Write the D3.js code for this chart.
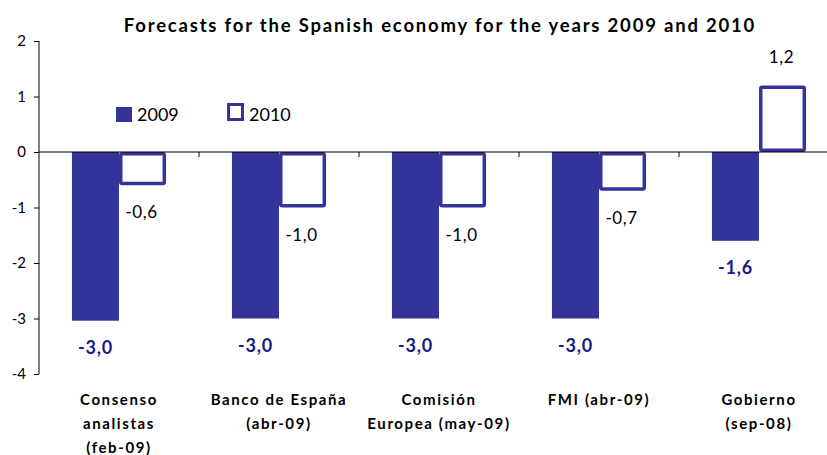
<!DOCTYPE html>
<html>
<head>
<meta charset="utf-8">
<script src="https://cdn.jsdelivr.net/npm/d3@7"></script>
<style>
  body { margin: 0; background: #fff; }
  svg { display: block; }
  text { font-family: Lato, "DejaVu Sans", sans-serif; }
</style>
</head>
<body>
<script>
var categories = [
  ["Consenso", "analistas", "(feb-09)"],
  ["Banco de España", "(abr-09)"],
  ["Comisión", "Europea (may-09)"],
  ["FMI (abr-09)"],
  ["Gobierno", "(sep-08)"]
];
var values2009 = [-3.04, -3.0, -3.0, -3.0, -1.6];
var values2010 = [-0.6, -1.0, -1.0, -0.7, 1.2];
var series = ["2009", "2010"];
var yTicks = [2, 1, 0, -1, -2, -3, -4];

var width = 827, height = 455;
var navy = "#333399";

var svg = d3.select("body").append("svg")
    .attr("width", width)
    .attr("height", height);

var x = d3.scaleBand()
    .domain(d3.range(categories.length))
    .range([39, 839])
    .paddingInner(0)
    .paddingOuter(0);

var xs = d3.scaleBand()
    .domain(series)
    .range([0, x.bandwidth()])
    .paddingOuter(0.7)
    .paddingInner(0);

var y = d3.scaleLinear()
    .domain([-4, 2])
    .range([374, 41]);

function fmt(v) { return v.toFixed(1).replace(".", ","); }

// title
svg.append("text")
    .attr("x", 440)
    .attr("y", 32)
    .attr("text-anchor", "middle")
    .style("font-size", "18.5px")
    .style("font-weight", "bold")
    .style("letter-spacing", "1.8px")
    .text("Forecasts for the Spanish economy for the years 2009 and 2010");

// bars 2009
svg.selectAll(".b09").data(values2009).enter().append("rect")
    .attr("class", "b09")
    .attr("x", function(d, i) { return x(i) + xs("2009"); })
    .attr("width", xs.bandwidth())
    .attr("y", function(d) { return y(Math.max(0, d)); })
    .attr("height", function(d) { return Math.abs(y(d) - y(0)); })
    .attr("fill", navy);

// bars 2010 (outlined)
var sw = 3.5;
svg.selectAll(".b10").data(values2010).enter().append("rect")
    .attr("class", "b10")
    .attr("x", function(d, i) { return x(i) + xs("2010") + sw / 2; })
    .attr("width", xs.bandwidth() - sw)
    .attr("y", function(d) { return y(Math.max(0, d)) + sw / 2; })
    .attr("height", function(d) { return Math.abs(y(d) - y(0)) - sw; })
    .attr("fill", "#fff")
    .attr("stroke", navy)
    .attr("stroke-width", sw)
    .attr("rx", 1.5);

// y axis
var yAxis = svg.append("g")
    .attr("transform", "translate(39,0)")
    .call(d3.axisLeft(y).tickValues(yTicks).tickSize(5).tickPadding(8)
      .tickFormat(function(d) { return d; }));
yAxis.selectAll("text").style("font-size", "15px").attr("fill", "#000");
yAxis.select(".domain").attr("d", "M0," + y(2) + "V" + y(-4));
yAxis.selectAll("line, path").attr("stroke", "#000");

// x axis at zero
var xAxis = svg.append("g")
    .attr("transform", "translate(0," + y(0) + ")");
xAxis.append("line")
    .attr("x1", 39).attr("x2", width)
    .attr("stroke", "#000");
xAxis.selectAll(".xt").data(d3.range(1, categories.length)).enter().append("line")
    .attr("x1", function(i) { return x(i); })
    .attr("x2", function(i) { return x(i); })
    .attr("y1", 0).attr("y2", 5)
    .attr("stroke", "#000");

// value labels 2009
svg.selectAll(".l09").data(values2009).enter().append("text")
    .attr("x", function(d, i) { return x(i) + xs("2009") + xs.bandwidth() / 2; })
    .attr("y", function(d) { return y(d) + 33; })
    .attr("text-anchor", "middle")
    .attr("fill", "#1a1a8a")
    .style("font-size", "18px")
    .style("font-weight", "bold")
    .style("letter-spacing", "0.8px")
    .text(fmt);

// value labels 2010
svg.selectAll(".l10").data(values2010).enter().append("text")
    .attr("x", function(d, i) { return x(i) + xs("2010") + xs.bandwidth() / 2 - 1; })
    .attr("y", function(d) { return d < 0 ? y(d) + 33 : y(d) - 22; })
    .attr("text-anchor", "middle")
    .attr("fill", "#000")
    .style("font-size", "17px")
    .style("letter-spacing", "0.6px")
    .text(fmt);

// category labels
svg.selectAll(".cat").data(categories).enter().append("text")
    .attr("text-anchor", "middle")
    .style("font-size", "15px")
    .style("font-weight", "bold")
    .style("letter-spacing", "1.6px")
    .each(function(lines, i) {
      d3.select(this).selectAll("tspan").data(lines).enter().append("tspan")
        .attr("x", x(i) + x.bandwidth() / 2)
        .attr("y", function(l, j) { return 405 + j * 24; })
        .text(function(l) { return l; });
    });

// legend
var legend = svg.append("g");
legend.append("rect")
    .attr("x", 116).attr("y", 107).attr("width", 16).attr("height", 15)
    .attr("fill", navy);
legend.append("text")
    .attr("x", 137).attr("y", 121)
    .style("font-size", "18px")
    .text(series[0]);
legend.append("rect")
    .attr("x", 228.5).attr("y", 104.5).attr("width", 14).attr("height", 15)
    .attr("fill", "#fff").attr("stroke", navy).attr("stroke-width", 3);
legend.append("text")
    .attr("x", 249).attr("y", 121)
    .style("font-size", "18px")
    .text(series[1]);
</script>
</body>
</html>
